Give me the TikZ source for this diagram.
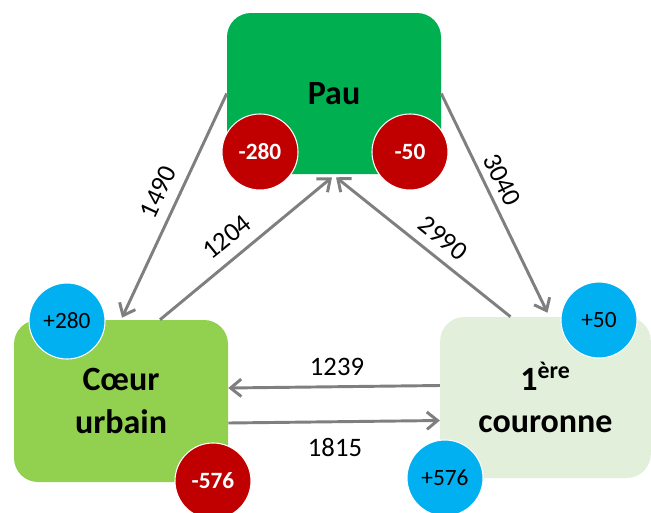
\documentclass[tikz,border=0pt]{standalone}
\usepackage{fontspec}
\setmainfont{Carlito}
\usetikzlibrary{arrows.meta,calc}
\definecolor{paugreen}{HTML}{00B050}
\definecolor{coeurgreen}{HTML}{92D050}
\definecolor{courpale}{HTML}{E2EFDA}
\definecolor{redc}{HTML}{C00000}
\definecolor{bluec}{HTML}{00B0F0}
\definecolor{arrgray}{HTML}{7F7F7F}
\tikzset{
  zone/.style={rounded corners=18pt, inner sep=0pt, align=center,
    font=\fontsize{25.5}{32}\selectfont\bfseries},
  flow/.style={draw=arrgray, line width=2.2pt,
    -{Straight Barb[length=8pt,width=13pt,line width=2.2pt]}},
  flowlabel/.style={font=\fontsize{20}{24}\selectfont, inner sep=0pt},
  negball/.style={circle, fill=redc, draw=white, line width=0.8pt,
    minimum size=57pt, inner sep=0pt, text=white,
    font=\fontsize{17.5}{20}\selectfont\bfseries},
  posball/.style={circle, fill=bluec, draw=white, line width=0.8pt,
    minimum size=57pt, inner sep=0pt, text=black,
    font=\fontsize{17.5}{20}\selectfont},
}
\begin{document}
\begin{tikzpicture}[x=0.75pt,y=-0.75pt]
\useasboundingbox (0,0) rectangle (651,512);
% zones
\node[zone, fill=paugreen, minimum width=160.5pt, minimum height=120.75pt] (pau) at (334,93.5) {Pau};
\node[zone, fill=coeurgreen, minimum width=160.5pt, minimum height=121.5pt] (coeur) at (121,401) {C\oe ur\\urbain};
\node[zone, fill=courpale, minimum width=158pt, minimum height=120.75pt] (cour) at (545.5,397.5) {1\textsuperscript{ère}\\couronne};
% connector end points
\coordinate (c1204s) at ($(coeur.north)+(39,0)$);
\coordinate (c1204e) at ($(pau.south)+(-2,3)$);
\coordinate (c2990s) at ($(cour.north)+(-35,0)$);
\coordinate (c2990e) at ($(pau.south)+(2,3)$);
\coordinate (c1490e) at ($(coeur.north)+(1,-2)$);
\coordinate (c3040e) at ($(cour.north)+(2,-4)$);
\coordinate (c1239s) at ($(cour.west)+(0,-12)$);
\coordinate (c1239e) at ($(coeur.east)+(0,-13)$);
\coordinate (c1815s) at ($(coeur.east)+(0,22)$);
\coordinate (c1815e) at ($(cour.west)+(0,23)$);
% flows
\draw[flow] (pau.west) -- (c1490e);
\draw[flow] (c1204s) -- (c1204e);
\draw[flow] (c2990s) -- (c2990e);
\draw[flow] (pau.east) -- (c3040e);
\draw[flow] (c1239s) -- (c1239e);
\draw[flow] (c1815s) -- (c1815e);
% flow labels
\node[flowlabel, rotate=65] (l1490) at (158,192) {1490};
\node[flowlabel, rotate=39] (l1204) at (227,237) {1204};
\node[flowlabel, rotate=-39] (l2990) at (443,238) {2990};
\node[flowlabel, rotate=-64] (l3040) at (502,180) {3040};
\node[flowlabel] (l1239) at (337,367) {1239};
\node[flowlabel] (l1815) at (335,447) {1815};
% balances
\node[negball] (b1) at (260,152) {-280};
\node[negball] (b2) at (410,152) {-50};
\node[negball] (b3) at (213,481) {-576};
\node[posball] (b4) at (67,321) {+280};
\node[posball] (b5) at (599,320) {+50};
\node[posball] (b6) at (445,478) {+576};
\end{tikzpicture}
\end{document}
